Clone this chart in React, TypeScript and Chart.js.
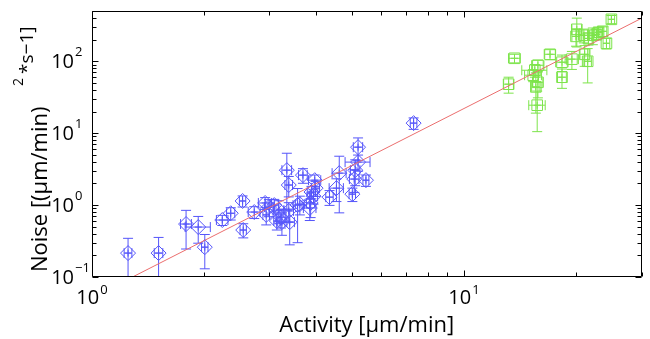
import React, { useEffect, useRef } from "react";
import { Chart, registerables } from "chart.js";

Chart.register(...registerables);

// ---- data ----
const blueX = [1.25, 1.51, 1.79, 1.93, 2.01, 2.24, 2.36, 2.54, 2.55, 2.73, 2.92, 2.99, 3.18, 3.14, 3.38, 3.34, 3.38, 3.69, 3.57, 3.85, 3.97, 3.89, 3.87, 3.40, 2.94, 4.62, 4.54, 4.35, 5.19, 5.19, 5.10, 5.07, 5.45, 5.01, 7.32, 3.24, 3.99, 3.94, 3.62, 3.09, 3.22];
const blueY = [0.215, 0.215, 0.545, 0.495, 0.26, 0.62, 0.77, 1.14, 0.45, 0.80, 1.07, 0.94, 0.85, 0.60, 0.83, 3.06, 1.90, 2.61, 1.00, 0.91, 2.22, 1.52, 1.07, 0.58, 0.73, 2.78, 1.72, 1.29, 6.39, 3.96, 3.06, 2.30, 2.22, 1.42, 13.8, 0.58, 1.72, 1.33, 1.03, 1.00, 0.68];
const blueXErr = [0.03, 0.04, 0.06, 0.15, 0.04, 0.08, 0.06, 0.05, 0.05, 0.1, 0.12, 0.08, 0.1, 0.06, 0.1, 0.1, 0.08, 0.1, 0.1, 0.15, 0.15, 0.1, 0.1, 0.1, 0.06, 0.2, 0.2, 0.1, 0.15, 0.4, 0.15, 0.15, 0.1, 0.1, 0.15, 0.1, 0.1, 0.1, 0.1, 0.08, 0.1];
const blueYErr = [0.13, 0.14, 0.3, 0.2, 0.13, 0.1, 0.15, 0.2, 0.1, 0.15, 0.2, 0.25, 0.3, 0.15, 0.25, 2.2, 0.6, 0.6, 0.7, 0.3, 0.4, 0.3, 0.4, 0.3, 0.2, 2.0, 0.6, 0.3, 2.2, 1.0, 1.2, 0.8, 0.4, 0.3, 2.5, 0.2, 0.4, 0.3, 0.3, 0.2, 0.2];

const greenX = [13.67, 13.18, 15.73, 17.03, 18.34, 18.34, 19.5, 20.1, 20.0, 21.1, 21.5, 15.5, 15.8, 15.35, 15.8, 24.15, 24.9, 23.6, 22.2, 21.0, 22.7, 23.0, 21.6, 15.6];
const greenY = [110, 48, 24.5, 125, 97, 60, 107, 278, 222, 125, 100, 75, 88, 64, 51, 178, 383, 261, 230, 230, 237, 253, 208, 44];
const greenXErr = [0.5, 0.4, 0.8, 0.6, 0.7, 0.5, 0.8, 0.6, 0.5, 0.6, 0.5, 1.2, 0.6, 0.8, 0.5, 0.5, 0.5, 0.6, 0.5, 0.6, 0.5, 0.6, 0.5, 0.4];
const greenYErr = [15, 12, 14, 20, 25, 18, 30, 120, 60, 40, 50, 15, 15, 12, 20, 30, 50, 40, 60, 50, 40, 40, 40, 25];

const fitX = [1.285, 30];
const fitY = [0.1, 396];

const xMin = 1;
const xMax = 30;
const yMin = 0.1;
const yMax = 500;
const xTickValues = [1, 10];
const xTickExps = ["0", "1"];
const yTickValues = [0.1, 1, 10, 100];
const yTickExps = ["\u22121", "0", "1", "2"];

const xTitle = "Activity [\u03bcm/min]";
const yTitleMain = "Noise [(\u03bcm/min)";
const yTitleSup = "2";
const yTitleTail = "*s\u22121]";

const BLUE = "rgb(85,85,250)";
const GREEN = "rgb(125,228,75)";
const RED = "rgb(235,110,110)";
const FONT = '"Open Sans", "DejaVu Sans", sans-serif';

export default function App() {
  const ref = useRef<HTMLCanvasElement>(null);

  useEffect(() => {
    document.body.style.margin = "0";
    const canvas = ref.current!;
    const pts = (xs: number[], ys: number[]) => xs.map((x, i) => ({ x, y: ys[i] }));

    const errPlugin = {
      id: "errbars",
      beforeDatasetsDraw(chart: any) {
        const { ctx, chartArea: a, scales } = chart;
        const sx = scales.x;
        const sy = scales.y;
        const cap = 5;
        ctx.save();
        ctx.beginPath();
        ctx.rect(a.left, a.top, a.right - a.left, a.bottom - a.top);
        ctx.clip();
        const draw = (xs: number[], ys: number[], xe: number[], ye: number[], color: string) => {
          ctx.strokeStyle = color;
          ctx.lineWidth = 1;
          ctx.beginPath();
          xs.forEach((x, i) => {
            const y = ys[i];
            const px = sx.getPixelForValue(x);
            const py = sy.getPixelForValue(y);
            const lo = y - ye[i];
            const pyLo = lo > 0 ? sy.getPixelForValue(lo) : a.bottom + 20;
            const pyHi = sy.getPixelForValue(y + ye[i]);
            ctx.moveTo(px, pyLo);
            ctx.lineTo(px, pyHi);
            ctx.moveTo(px - cap, pyLo);
            ctx.lineTo(px + cap, pyLo);
            ctx.moveTo(px - cap, pyHi);
            ctx.lineTo(px + cap, pyHi);
            const pxLo = sx.getPixelForValue(x - xe[i]);
            const pxHi = sx.getPixelForValue(x + xe[i]);
            ctx.moveTo(pxLo, py);
            ctx.lineTo(pxHi, py);
            ctx.moveTo(pxLo, py - cap);
            ctx.lineTo(pxLo, py + cap);
            ctx.moveTo(pxHi, py - cap);
            ctx.lineTo(pxHi, py + cap);
          });
          ctx.stroke();
        };
        draw(blueX, blueY, blueXErr, blueYErr, BLUE);
        draw(greenX, greenY, greenXErr, greenYErr, GREEN);
        ctx.restore();
      },
    };

    const axesPlugin = {
      id: "matlabAxes",
      afterDraw(chart: any) {
        const { ctx, chartArea: a, scales } = chart;
        const sx = scales.x;
        const sy = scales.y;
        ctx.save();
        ctx.strokeStyle = "#000";
        ctx.lineWidth = 1;
        const L = Math.round(a.left) + 0.5;
        const R = Math.round(a.right) - 0.5;
        const T = Math.round(a.top) + 0.5;
        const B = Math.round(a.bottom) - 0.5;
        ctx.beginPath();
        ctx.rect(L, T, R - L, B - T);
        xTickValues.forEach((d) => {
          for (let m = 1; m <= 9; m++) {
            const v = m * d;
            if (v < xMin || v > xMax) continue;
            const px = Math.round(sx.getPixelForValue(v)) + 0.5;
            const len = m === 1 ? 6 : 4;
            ctx.moveTo(px, B);
            ctx.lineTo(px, B - len);
            ctx.moveTo(px, T);
            ctx.lineTo(px, T + len);
          }
        });
        yTickValues.forEach((d) => {
          for (let m = 1; m <= 9; m++) {
            const v = m * d;
            if (v < yMin * 0.999 || v > yMax) continue;
            const py = Math.round(sy.getPixelForValue(v)) + 0.5;
            const len = m === 1 ? 6 : 4;
            ctx.moveTo(L, py);
            ctx.lineTo(L + len, py);
            ctx.moveTo(R, py);
            ctx.lineTo(R - len, py);
          }
        });
        ctx.stroke();

        // tick labels
        ctx.fillStyle = "#000";
        ctx.textBaseline = "alphabetic";
        const big = `20px ${FONT}`;
        const small = `13px ${FONT}`;
        xTickValues.forEach((v, i) => {
          const px = sx.getPixelForValue(v);
          ctx.font = big;
          const w1 = ctx.measureText("10").width;
          ctx.font = small;
          const w2 = ctx.measureText(xTickExps[i]).width;
          const start = px - (w1 + w2 + 1) / 2;
          ctx.textAlign = "left";
          ctx.font = big;
          ctx.fillText("10", start, 304);
          ctx.font = small;
          ctx.fillText(xTickExps[i], start + w1 + 1, 294);
        });
        yTickValues.forEach((v, i) => {
          const py = sy.getPixelForValue(v);
          ctx.font = big;
          ctx.textAlign = "right";
          ctx.fillText("10", 74, py + 7);
          ctx.font = small;
          ctx.textAlign = "left";
          ctx.fillText(yTickExps[i], 75, py - 5);
        });

        // x title
        ctx.font = `22px ${FONT}`;
        ctx.textAlign = "center";
        ctx.fillText(xTitle, (a.left + a.right) / 2, 332);

        // y title (rotated)
        ctx.save();
        ctx.translate(47, 272);
        ctx.rotate(-Math.PI / 2);
        ctx.textAlign = "left";
        ctx.font = `22px ${FONT}`;
        ctx.fillText(yTitleMain, 0, 0);
        ctx.font = `14px ${FONT}`;
        ctx.fillText(yTitleSup, 272 - 86, -24);
        ctx.font = `19px ${FONT}`;
        ctx.fillText(yTitleTail, 272 - 74, -14);
        ctx.restore();

        ctx.restore();
      },
    };

    const chart = new Chart(canvas, {
      type: "scatter",
      data: {
        datasets: [
          {
            type: "line",
            data: pts(fitX, fitY),
            borderColor: RED,
            borderWidth: 1,
            pointRadius: 0,
            fill: false,
          },
          {
            data: pts(blueX, blueY),
            pointStyle: "rectRot",
            pointRadius: 7.5,
            borderColor: BLUE,
            backgroundColor: "rgba(0,0,0,0)",
            borderWidth: 1,
          },
          {
            data: pts(blueX, blueY),
            pointStyle: "cross",
            pointRadius: 3.5,
            borderColor: BLUE,
            borderWidth: 1,
          },
          {
            data: pts(greenX, greenY),
            pointStyle: "rect",
            pointRadius: 7.5,
            borderColor: GREEN,
            backgroundColor: "rgba(0,0,0,0)",
            borderWidth: 1,
          },
          {
            data: pts(greenX, greenY),
            pointStyle: "cross",
            pointRadius: 3.5,
            borderColor: GREEN,
            borderWidth: 1,
          },
        ],
      } as any,
      options: {
        animation: false,
        responsive: false,
        devicePixelRatio: 1,
        layout: { padding: { left: 0, right: 3, top: 11, bottom: 0 } },
        plugins: { legend: { display: false }, tooltip: { enabled: false } },
        scales: {
          x: {
            type: "logarithmic",
            min: xMin,
            max: xMax,
            grid: { display: false },
            border: { display: false },
            ticks: { display: false },
            afterFit: (s: any) => {
              s.height = 62;
            },
          },
          y: {
            type: "logarithmic",
            min: yMin,
            max: yMax,
            grid: { display: false },
            border: { display: false },
            ticks: { display: false },
            afterFit: (s: any) => {
              s.width = 92;
            },
          },
        },
      } as any,
      plugins: [errPlugin, axesPlugin],
    });
    return () => chart.destroy();
  }, []);

  return (
    <div style={{ position: "absolute", left: 0, top: 0, width: 650, height: 339, background: "#fff" }}>
      <canvas ref={ref} width={650} height={339} style={{ display: "block" }} />
    </div>
  );
}
